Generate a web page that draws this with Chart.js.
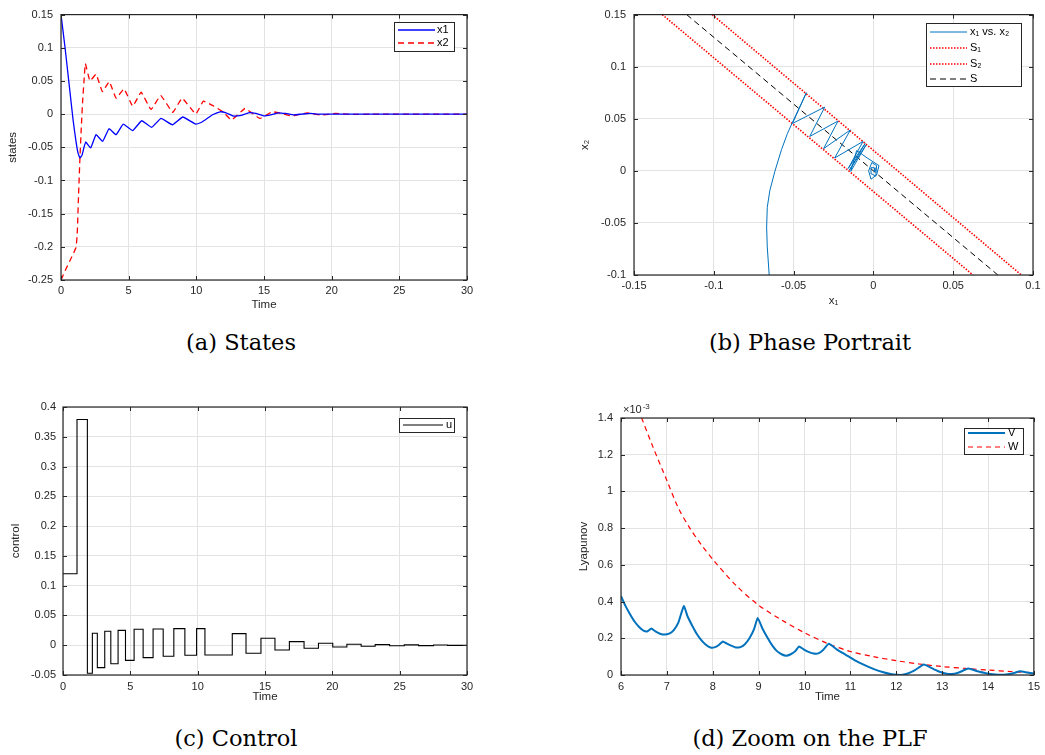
<!DOCTYPE html>
<html>
<head>
<meta charset="utf-8">
<title>States, phase portrait, control, PLF</title>
<script src="https://cdn.jsdelivr.net/npm/chart.js@4.4.1/dist/chart.umd.min.js"></script>
<style>
  body { margin: 0; background: #fff; }
  #fig { position: relative; width: 1045px; height: 755px; overflow: hidden; }
  canvas { position: absolute; }
  .cap { position: absolute; width: 300px; text-align: center; font-family: "DejaVu Serif", serif; font-size: 22.5px; line-height: 26px; color: #000; }
</style>
</head>
<body>
<div id="fig">
  <canvas id="statesChart" width="480" height="320" style="left:0;top:0"></canvas>
  <canvas id="phaseChart" width="525" height="320" style="left:520px;top:0"></canvas>
  <canvas id="controlChart" width="480" height="320" style="left:0;top:390px"></canvas>
  <canvas id="plfChart" width="525" height="320" style="left:520px;top:390px"></canvas>
  <div class="cap" style="left:91px;top:329px">(a) States</div>
  <div class="cap" style="left:660px;top:329px">(b) Phase Portrait</div>
  <div class="cap" style="left:86px;top:725px">(c) Control</div>
  <div class="cap" style="left:660px;top:725px">(d) Zoom on the PLF</div>
</div>
<script>
// (a) states
const x1Time = [0, 0.3, 0.6, 0.9, 1.1, 1.25, 1.4, 1.55, 1.7, 1.83, 2.19, 2.59, 3.08, 3.55, 4.07, 4.6, 5.29, 5.96, 6.7, 7.39, 8.23, 9.0, 9.95, 10.3, 10.7, 11.2, 11.76, 12.2, 12.75, 13.3, 13.85, 14.4, 14.96, 15.5, 16.07, 16.6, 17.2, 17.8, 18.4, 19.0, 19.7, 20.5, 22, 30];
const x1Vals = [0.15, 0.10, 0.045, -0.01, -0.04, -0.058, -0.066, -0.062, -0.05, -0.042, -0.051, -0.031, -0.041, -0.022, -0.031, -0.015, -0.025, -0.010, -0.020, -0.0064, -0.016, -0.0043, -0.015, -0.013, -0.008, -0.001, 0.0035, 0.002, -0.003, -0.002, 0.002, 0.001, -0.0025, -0.001, 0.002, 0.001, -0.001, 0, 0.001, 0, 0, 0, 0, 0];
const x2Time = [0, 0.4, 0.8, 1.11, 1.2, 1.3, 1.4, 1.5, 1.6, 1.7, 1.8, 2.14, 2.59, 3.06, 3.57, 4.07, 4.66, 5.3, 5.92, 6.65, 7.37, 8.26, 8.95, 9.96, 10.52, 11.26, 12.0, 12.6, 13.6, 14.7, 15.6, 16.3, 17.05, 18.2, 19.2, 20.3, 21.5, 23, 30];
const x2Vals = [-0.25, -0.232, -0.215, -0.201, -0.18, -0.12, -0.066, -0.02, 0.02, 0.05, 0.076, 0.05, 0.060, 0.034, 0.049, 0.024, 0.038, 0.012, 0.033, 0.007, 0.028, 0.0027, 0.024, 0.0002, 0.0195, 0.0125, 0.003, -0.009, 0.0085, -0.0065, 0.0035, 0.001, -0.003, 0.002, -0.0015, 0.001, -0.0005, 0, 0];

// (b) phase portrait
const phaseX1 = [-0.0653, -0.0665, -0.0669, -0.0665, -0.0649, -0.0617, -0.0576, -0.0538, -0.0508, -0.0420, -0.0507, -0.0305, -0.0399, -0.0222, -0.0312, -0.0144, -0.0243, -0.0065, -0.0158, -0.0052, -0.0150, -0.0046, -0.0142, -0.0105, -0.0040, 0.0035, 0.0020, -0.0015, -0.0030, -0.0010, 0.0020, 0.0015, -0.0010, -0.0015, 0.0005, 0.0010, 0.0];
const phaseX2 = [-0.100, -0.073, -0.054, -0.035, -0.019, -0.0003, 0.0203, 0.0361, 0.0462, 0.0750, 0.0455, 0.0612, 0.0330, 0.0478, 0.0213, 0.0393, 0.0123, 0.0282, 0.0023, 0.0262, 0.0008, 0.0248, -0.0005, 0.0195, 0.0125, 0.0050, -0.0040, -0.0080, 0.0000, 0.0080, 0.0050, -0.0050, -0.0030, 0.0030, 0.0030, -0.0010, 0.0];
const s1X1 = [-0.101, 0.0927];
const s1X2 = [0.15, -0.1];
const s2X1 = [-0.1323, 0.0624];
const s2X2 = [0.15, -0.1];
const sX1 = [-0.117, 0.078];
const sX2 = [0.15, -0.1];

// (c) control, value held from each switch time
const uTime = [0, 1.04, 1.81, 2.18, 2.55, 3.1, 3.55, 4.09, 4.64, 5.28, 5.95, 6.69, 7.44, 8.23, 9.05, 9.92, 10.54, 12.57, 13.59, 14.7, 15.74, 16.81, 17.9, 18.97, 20.03, 21.08, 22.14, 23.18, 24.25, 25.34, 26.4, 27.52, 28.56, 30];
const uVals = [0.12, 0.379, -0.047, 0.020, -0.0377, 0.0234, -0.031, 0.025, -0.0254, 0.0268, -0.0209, 0.0273, -0.0186, 0.0279, -0.0169, 0.0279, -0.0164, 0.0195, -0.0136, 0.0116, -0.008, 0.006, -0.0052, 0.0032, -0.003, 0.0017, -0.0018, 0.001, -0.001, 0.0006, -0.0007, 0.0004, -0.0002, -0.0002];

// (d) Lyapunov, in units of 1e-3
const vTime = [6.0, 6.1, 6.2, 6.3, 6.4, 6.5, 6.58, 6.66, 6.75, 6.85, 6.95, 7.05, 7.15, 7.25, 7.37, 7.45, 7.55, 7.65, 7.75, 7.85, 7.95, 8.05, 8.14, 8.22, 8.3, 8.4, 8.5, 8.6, 8.7, 8.8, 8.9, 8.98, 9.08, 9.2, 9.3, 9.4, 9.5, 9.6, 9.7, 9.8, 9.88, 9.98, 10.1, 10.2, 10.3, 10.4, 10.53, 10.7, 10.9, 11.1, 11.3, 11.5, 11.7, 11.9, 12.1, 12.25, 12.4, 12.6, 12.75, 12.9, 13.05, 13.2, 13.35, 13.57, 13.75, 13.95, 14.15, 14.35, 14.55, 14.7, 14.85, 15.0];
const vVals = [0.43, 0.375, 0.33, 0.29, 0.26, 0.24, 0.238, 0.253, 0.238, 0.225, 0.22, 0.225, 0.245, 0.285, 0.375, 0.32, 0.27, 0.225, 0.19, 0.165, 0.15, 0.152, 0.165, 0.183, 0.172, 0.16, 0.15, 0.152, 0.168, 0.2, 0.25, 0.31, 0.255, 0.2, 0.16, 0.13, 0.113, 0.105, 0.113, 0.13, 0.155, 0.14, 0.125, 0.117, 0.118, 0.135, 0.17, 0.14, 0.11, 0.08, 0.055, 0.033, 0.016, 0.004, 0.0, 0.008, 0.025, 0.057, 0.04, 0.022, 0.01, 0.005, 0.012, 0.035, 0.022, 0.01, 0.003, 0.002, 0.01, 0.02, 0.014, 0.008];
const wTime = [6.45, 6.7, 7.0, 7.25, 7.5, 7.75, 8.0, 8.5, 9.0, 9.5, 10.0, 10.5, 11.0, 11.5, 12.0, 12.5, 13.0, 13.5, 14.0, 14.5, 15.0];
const wVals = [1.40, 1.24, 1.06, 0.91, 0.80, 0.71, 0.63, 0.49, 0.38, 0.30, 0.23, 0.172, 0.128, 0.10, 0.078, 0.06, 0.046, 0.036, 0.027, 0.019, 0.012];

Chart.defaults.font.family = '"Liberation Sans", "DejaVu Sans", Arial, sans-serif';
Chart.defaults.font.size = 11;
Chart.defaults.color = '#262626';
Chart.defaults.animation = false;

const GRID = '#e3e3e3';
const INK = '#262626';

function pts(xs, ys) {
  return xs.map((x, i) => ({ x: x, y: ys[i] }));
}

function fmt(v) {
  return String(Math.round(v * 1000) / 1000);
}

function axis(min, max, step, o) {
  return {
    type: 'linear',
    min: min,
    max: max,
    grid: { color: GRID, drawTicks: false },
    border: { display: false },
    ticks: { stepSize: step, padding: o.pad, autoSkip: false, maxRotation: 0, callback: fmt },
    title: { display: true, text: o.title, padding: o.titlePad, font: { size: 11.5 } },
    afterFit: (s) => {
      if (o.width) s.width = o.width;
      if (o.height) s.height = o.height;
    },
  };
}

// matlab style box, inward ticks and a boxed legend
function boxPlugin(legend, exponent) {
  return {
    id: 'matlabBox',
    afterDraw(chart) {
      const { ctx, chartArea: a } = chart;
      const sx = chart.scales.x;
      const sy = chart.scales.y;
      ctx.save();
      ctx.strokeStyle = INK;
      ctx.lineWidth = 1;
      ctx.beginPath();
      sx.ticks.forEach((t) => {
        const p = Math.round(sx.getPixelForValue(t.value)) + 0.5;
        ctx.moveTo(p, a.bottom); ctx.lineTo(p, a.bottom - 4);
        ctx.moveTo(p, a.top); ctx.lineTo(p, a.top + 4);
      });
      sy.ticks.forEach((t) => {
        const p = Math.round(sy.getPixelForValue(t.value)) + 0.5;
        ctx.moveTo(a.left, p); ctx.lineTo(a.left + 4, p);
        ctx.moveTo(a.right, p); ctx.lineTo(a.right - 4, p);
      });
      ctx.stroke();
      ctx.lineWidth = 1.2;
      ctx.strokeRect(a.left, a.top, a.width, a.height);

      if (exponent) {
        ctx.fillStyle = INK;
        ctx.textBaseline = 'alphabetic';
        ctx.font = '11px "Liberation Sans", "DejaVu Sans", sans-serif';
        ctx.fillText('\u00d710', a.left + 2, a.top - 5);
        const w = ctx.measureText('\u00d710').width;
        ctx.font = '8px "Liberation Sans", "DejaVu Sans", sans-serif';
        ctx.fillText(exponent, a.left + 3 + w, a.top - 9);
      }

      if (legend) {
        const b = legend.box;
        ctx.fillStyle = '#fff';
        ctx.fillRect(b[0], b[1], b[2], b[3]);
        ctx.strokeStyle = INK;
        ctx.lineWidth = 1;
        ctx.strokeRect(b[0] + 0.5, b[1] + 0.5, b[2], b[3]);
        ctx.font = '11px "Liberation Sans", "DejaVu Sans", sans-serif';
        ctx.textBaseline = 'middle';
        legend.items.forEach((it) => {
          const ds = chart.data.datasets[it.ds];
          ctx.beginPath();
          ctx.setLineDash(ds.borderDash || []);
          ctx.strokeStyle = ds.borderColor;
          ctx.lineWidth = ds.borderWidth;
          ctx.moveTo(legend.line[0], it.y);
          ctx.lineTo(legend.line[1], it.y);
          ctx.stroke();
          ctx.setLineDash([]);
          ctx.fillStyle = '#000';
          ctx.fillText(it.text || ds.label, legend.textX, it.y);
        });
      }
      ctx.restore();
    },
  };
}

function baseOptions(pad) {
  return {
    responsive: false,
    devicePixelRatio: 1,
    layout: { padding: pad },
    plugins: { legend: { display: false }, tooltip: { enabled: false } },
    elements: { point: { radius: 0 } },
  };
}

// (a) States
new Chart(document.getElementById('statesChart').getContext('2d'), {
  type: 'line',
  data: {
    datasets: [
      { label: 'x1', data: pts(x1Time, x1Vals), borderColor: '#0000ff', borderWidth: 1.3, tension: 0.1 },
      { label: 'x2', data: pts(x2Time, x2Vals), borderColor: '#ff0000', borderWidth: 1.3, borderDash: [6, 4], tension: 0.1 },
    ],
  },
  options: Object.assign(baseOptions({ left: 0, top: 12, right: 13, bottom: 0 }), {
    scales: {
      x: axis(0, 30, 5, { title: 'Time', pad: 4, titlePad: { top: 0, bottom: 8 }, height: 40 }),
      y: axis(-0.25, 0.15, 0.05, { title: 'states', pad: 8, titlePad: { top: 6, bottom: 0 }, width: 61 }),
    },
  }),
  plugins: [boxPlugin({ box: [394, 22, 60, 29], line: [398, 435], textX: 437, items: [{ ds: 0, y: 30 }, { ds: 1, y: 43 }] })],
});

// (b) Phase portrait
new Chart(document.getElementById('phaseChart').getContext('2d'), {
  type: 'scatter',
  data: {
    datasets: [
      { label: 'x\u2081 vs. x\u2082', data: pts(phaseX1, phaseX2), showLine: true, borderColor: '#0072bd', borderWidth: 1, tension: 0 },
      { label: 'S\u2081', data: pts(s1X1, s1X2), showLine: true, borderColor: '#ff0000', borderWidth: 1.6, borderDash: [1.5, 1.5] },
      { label: 'S\u2082', data: pts(s2X1, s2X2), showLine: true, borderColor: '#ff0000', borderWidth: 1.6, borderDash: [1.5, 1.5] },
      { label: 'S', data: pts(sX1, sX2), showLine: true, borderColor: '#000000', borderWidth: 1, borderDash: [6, 4] },
    ],
  },
  options: Object.assign(baseOptions({ left: 50, top: 12, right: 12, bottom: 0 }), {
    scales: {
      x: axis(-0.15, 0.1, 0.05, { title: 'x\u2081', pad: 4, titlePad: { top: 0, bottom: 12 }, height: 45 }),
      y: axis(-0.1, 0.15, 0.05, { title: 'x\u2082', pad: 8, titlePad: { top: 8, bottom: 0 }, width: 64 }),
    },
  }),
  plugins: [boxPlugin({ box: [406, 23, 95, 63], line: [410, 447], textX: 450, items: [{ ds: 0, y: 32 }, { ds: 1, y: 48 }, { ds: 2, y: 64 }, { ds: 3, y: 79 }] })],
});

// (c) Control
new Chart(document.getElementById('controlChart').getContext('2d'), {
  type: 'line',
  data: {
    datasets: [
      { label: 'u', data: pts(uTime, uVals), borderColor: '#000000', borderWidth: 1.1, stepped: true },
    ],
  },
  options: Object.assign(baseOptions({ left: 0, top: 17, right: 13, bottom: 0 }), {
    scales: {
      x: axis(0, 30, 5, { title: 'Time', pad: 5, titlePad: { top: 0, bottom: 6 }, height: 35 }),
      y: axis(-0.05, 0.4, 0.05, { title: 'control', pad: 7, titlePad: { top: 9, bottom: 0 }, width: 63 }),
    },
  }),
  plugins: [boxPlugin({ box: [399, 28, 55, 14], line: [403, 443], textX: 446, items: [{ ds: 0, y: 35 }] })],
});

// (d) Zoom on the PLF
new Chart(document.getElementById('plfChart').getContext('2d'), {
  type: 'line',
  data: {
    datasets: [
      { label: 'V', data: pts(vTime, vVals), borderColor: '#0072bd', borderWidth: 2, tension: 0.15 },
      { label: 'W', data: pts(wTime, wVals), borderColor: '#ff0000', borderWidth: 1.2, borderDash: [5, 4], tension: 0.3 },
    ],
  },
  options: Object.assign(baseOptions({ left: 48, top: 28, right: 10, bottom: 0 }), {
    scales: {
      x: axis(6, 15, 1, { title: 'Time', pad: 5, titlePad: { top: 0, bottom: 6 }, height: 35 }),
      y: axis(0, 1.4, 0.2, { title: 'Lyapunov', pad: 8, titlePad: { top: 9, bottom: 0 }, width: 53 }),
    },
  }),
  plugins: [boxPlugin({ box: [444, 38, 59, 26], line: [448, 485], textX: 488, items: [{ ds: 0, y: 43 }, { ds: 1, y: 57 }] }, '-3')],
});
</script>
</body>
</html>
